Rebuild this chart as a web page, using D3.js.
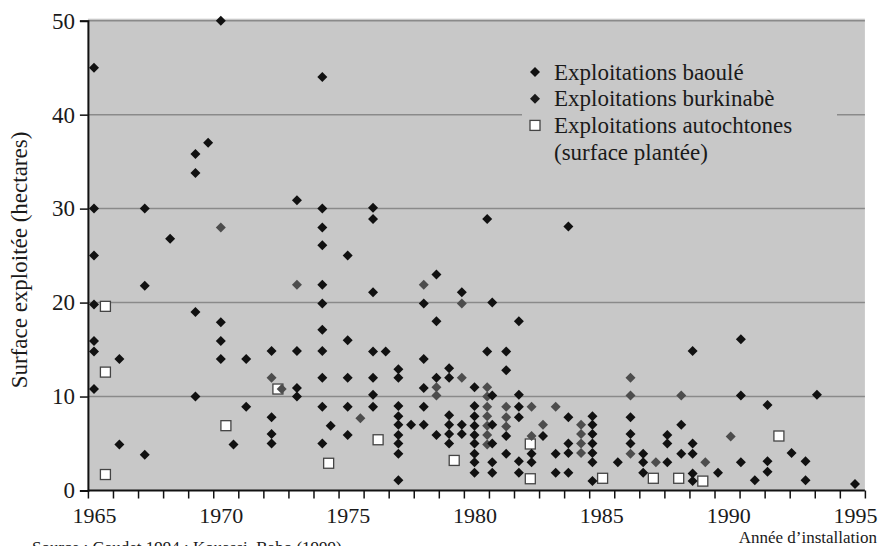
<!DOCTYPE html>
<html>
<head>
<meta charset="utf-8">
<script src="https://cdn.jsdelivr.net/npm/d3@7/dist/d3.min.js"></script>
<style>
  body { margin: 0; background: #fff; }
  svg { display: block; }
  text { font-family: "Liberation Serif", "Times New Roman", serif; fill: #1a1a1a; }
</style>
</head>
<body>
<div id="chart"></div>
<script>
// Data: each entry is [year, [surfaces in ha]]
var baoule = [
  [1965, [45, 30, 25, 19.8, 15.9, 14.8, 10.8]],
  [1966, [14, 4.9]],
  [1967, [30, 21.8, 3.8]],
  [1968, [26.8]],
  [1969, [35.8, 33.8, 19, 10]],
  [1969.5, [37]],
  [1970, [50, 17.9, 15.9, 14]],
  [1970.5, [4.9]],
  [1971, [14, 8.9]],
  [1972, [14.85, 7.8, 6, 5]],
  [1973, [30.9, 14.85, 10.9, 10]],
  [1974, [44, 30, 28, 26.1, 21.9, 19.9, 17.1, 14.85, 12, 8.9, 5]],
  [1974.33, [6.9]],
  [1975, [25, 16, 12, 8.9, 5.9]],
  [1976, [30.1, 28.9, 21.1, 14.8, 12, 10.2, 8.9]],
  [1976.5, [14.8]],
  [1977, [12.9, 12, 9, 7.9, 7, 5.9, 5, 3.9, 1.1]],
  [1977.5, [7]],
  [1978, [19.9, 14, 10.9, 8.9, 7]],
  [1978.5, [23, 18, 12, 5.9]],
  [1979, [13, 12, 8, 7, 6, 5]],
  [1979.5, [21.1, 7, 6]],
  [1980, [11, 9, 7.9, 6.9, 5.9, 5, 3.9, 3, 1.9]],
  [1980.5, [28.9, 14.8]],
  [1980.7, [20, 10.1, 7, 5, 3, 1.9]],
  [1981.25, [14.8, 12.8, 5.8, 3.9]],
  [1981.75, [18, 10.2, 8.9, 7.8, 3.1, 1.9]],
  [1982.25, [3.9, 3]],
  [1982.7, [5.8]],
  [1983.2, [3.9, 1.9]],
  [1983.7, [28.1, 7.8, 5, 4, 1.9]],
  [1984.65, [7.9, 7, 6, 5, 4, 3, 1]],
  [1985.65, [3]],
  [1986.15, [7.8, 6, 5]],
  [1986.65, [3.9, 3, 1.9]],
  [1987.6, [5.9, 5, 3]],
  [1988.15, [7, 3.9]],
  [1988.6, [14.85, 5, 3.9, 1.8, 1]],
  [1989.6, [1.9]],
  [1990.5, [16.1, 10.1, 3]],
  [1991.05, [1.1]],
  [1991.55, [9.1, 3.1, 2]],
  [1992.5, [4]],
  [1993.05, [3.1, 1.1]],
  [1993.5, [10.2]],
  [1995, [0.7]]
];

var burkinabe = [
  [1970, [28]],
  [1972, [12]],
  [1972.4, [10.8]],
  [1973, [21.9]],
  [1975.5, [7.7]],
  [1978, [21.9]],
  [1978.5, [11, 10.1]],
  [1979.5, [19.9, 12]],
  [1980.5, [11, 10, 8.9, 7.9, 6.9, 5.9, 4.9]],
  [1981.25, [8.9, 7.8, 6.8]],
  [1982.25, [8.9, 5.8]],
  [1982.7, [7]],
  [1983.2, [8.9]],
  [1984.2, [7, 6, 5, 4]],
  [1986.15, [12, 10.1, 3.9]],
  [1987.15, [3]],
  [1988.15, [10.1]],
  [1989.1, [3]],
  [1990.1, [5.75]]
];

var autochtones = [
  [1965.45, [19.6, 12.6, 1.7]],
  [1970.2, [6.9]],
  [1972.25, [10.8]],
  [1974.25, [2.9]],
  [1976.2, [5.4]],
  [1979.2, [3.2]],
  [1982.2, [4.95, 1.25]],
  [1985.05, [1.3]],
  [1987.05, [1.3]],
  [1988.05, [1.3]],
  [1989, [1.0]],
  [1992, [5.8]]
];

var yTicks = [0, 10, 20, 30, 40, 50];
var xLabels = [1965, 1970, 1975, 1980, 1985, 1990, 1995];
var legendLabels = ["Exploitations baoulé", "Exploitations burkinabè", "Exploitations autochtones", "(surface plantée)"];

// axis extent is a bit wider than the labelled years
var xMin = 1964.76, xMax = 1995.39;

function flatten(series) {
  var out = [];
  series.forEach(function (s) {
    s[1].forEach(function (v) { out.push({ year: s[0], value: v }); });
  });
  return out;
}

var svgWidth = 880, svgHeight = 546;

var svg = d3.select("#chart").append("svg")
  .attr("width", svgWidth)
  .attr("height", svgHeight);

var xScale = d3.scaleLinear().domain([1965, 1995]).range([94, 855]);
var yScale = d3.scaleLinear().domain([0, 50]).range([490.5, 20.7]);

var left = xScale(xMin), right = xScale(xMax);

// plot background
svg.append("rect")
  .attr("x", left)
  .attr("y", yScale(50) - 2)
  .attr("width", right - left)
  .attr("height", yScale(0) - yScale(50) + 2)
  .attr("fill", "#c8c8c8");

// gridlines
svg.append("g")
  .selectAll("line")
  .data(yTicks.filter(d => d > 0))
  .enter()
  .append("line")
  .attr("x1", left)
  .attr("x2", right)
  .attr("y1", d => yScale(d))
  .attr("y2", d => yScale(d))
  .attr("stroke", "#8a8a8a")
  .attr("stroke-width", 1.5);

// legend box hides the gridline behind it
var legend = svg.append("g").attr("transform", "translate(535, 72)");
legend.append("rect")
  .attr("x", -13)
  .attr("y", -20)
  .attr("width", 315)
  .attr("height", 112)
  .attr("fill", "#c8c8c8");

// squares first, diamonds sit on top of them
var sq = 10;
svg.append("g")
  .selectAll("rect")
  .data(flatten(autochtones))
  .enter()
  .append("rect")
  .attr("x", d => xScale(d.year) - sq / 2)
  .attr("y", d => yScale(d.value) - sq / 2)
  .attr("width", sq)
  .attr("height", sq)
  .attr("fill", "#fff")
  .attr("stroke", "#444")
  .attr("stroke-width", 1.3);

var diamond = d3.symbol().type(d3.symbolSquare).size(50);

svg.append("g")
  .selectAll("path")
  .data(flatten(burkinabe))
  .enter()
  .append("path")
  .attr("d", diamond)
  .attr("transform", d => `translate(${xScale(d.year)}, ${yScale(d.value)}) rotate(45)`)
  .attr("fill", "#4d4d4d");

svg.append("g")
  .selectAll("path")
  .data(flatten(baoule))
  .enter()
  .append("path")
  .attr("d", diamond)
  .attr("transform", d => `translate(${xScale(d.year)}, ${yScale(d.value)}) rotate(45)`)
  .attr("fill", "#111");

// legend entries
var rowH = 26.7;
legendLabels.forEach(function (label, i) {
  var yy = i * rowH;
  if (i === 0 || i === 1) {
    legend.append("path")
      .attr("d", diamond)
      .attr("transform", `translate(0, ${yy}) rotate(45)`)
      .attr("fill", i === 0 ? "#111" : "#1a1a1a");
  } else if (i === 2) {
    legend.append("rect")
      .attr("x", -sq / 2).attr("y", yy - sq / 2)
      .attr("width", sq).attr("height", sq)
      .attr("fill", "#fff").attr("stroke", "#444").attr("stroke-width", 1.3);
  }
  legend.append("text")
    .attr("x", 19)
    .attr("y", yy + 7.5)
    .style("font-size", "23px")
    .text(label);
});

// y axis
var yAxis = d3.axisLeft(yScale).tickValues(yTicks).tickSize(8).tickPadding(5);
var yG = svg.append("g")
  .attr("transform", `translate(${left}, 0)`)
  .call(yAxis);
yG.selectAll("text").style("font-size", "23px").attr("fill", "#1a1a1a");
yG.select(".domain").attr("stroke", "#111").attr("stroke-width", 2);
yG.selectAll(".tick line").attr("stroke", "#111").attr("stroke-width", 1.5);

// x axis: minor ticks over the whole extent, labels every 5 years
var minorTicks = d3.range(32).map(i => xMin + i * (xMax - xMin) / 31);
var xMinor = d3.axisBottom(xScale).tickValues(minorTicks).tickSize(8).tickFormat("");
var xG = svg.append("g")
  .attr("transform", `translate(0, ${yScale(0)})`)
  .call(xMinor);
xG.select(".domain").attr("stroke", "#111").attr("stroke-width", 2)
  .attr("d", `M${left},0H${right}`);
xG.selectAll(".tick line").attr("stroke", "#111").attr("stroke-width", 1.5);

var xLab = d3.axisBottom(xScale).tickValues(xLabels).tickSize(0).tickPadding(17).tickFormat(d3.format("d"));
var xL = svg.append("g")
  .attr("transform", `translate(0, ${yScale(0)})`)
  .call(xLab);
xL.select(".domain").remove();
xL.selectAll("text").style("font-size", "22px").attr("fill", "#1a1a1a");

// axis titles
svg.append("text")
  .attr("transform", `translate(27, 260) rotate(-90)`)
  .attr("text-anchor", "middle")
  .style("font-size", "23px")
  .text("Surface exploitée (hectares)");

svg.append("text")
  .attr("x", 877)
  .attr("y", 543)
  .attr("text-anchor", "end")
  .style("font-size", "17px")
  .text("Année d’installation");

// source line, cut off by the bottom edge in the scan
svg.append("text")
  .attr("x", 32)
  .attr("y", 553)
  .style("font-size", "17px")
  .attr("fill", "#333")
  .text("Source : Gaudet 1994 ; Kouassi, Babo (1999)");
</script>
</body>
</html>
